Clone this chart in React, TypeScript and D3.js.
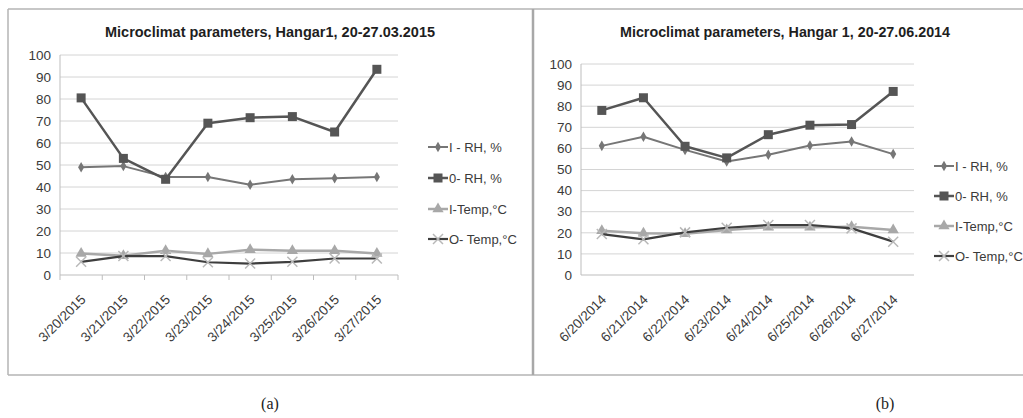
import React from "react";
import * as d3 from "d3";

const datesA = ["3/20/2015", "3/21/2015", "3/22/2015", "3/23/2015", "3/24/2015", "3/25/2015", "3/26/2015", "3/27/2015"];
const datesB = ["6/20/2014", "6/21/2014", "6/22/2014", "6/23/2014", "6/24/2014", "6/25/2014", "6/26/2014", "6/27/2014"];

const seriesNames = ["I - RH, %", "0- RH, %", "I-Temp,°C", "O- Temp,°C"];

const aIRH = [49, 49.5, 44.5, 44.5, 41, 43.5, 44, 44.5];
const aORH = [80.5, 53, 43.5, 69, 71.5, 72, 65, 93.5];
const aITemp = [9.8, 8.8, 11, 9.6, 11.5, 11, 11, 9.8];
const aOTemp = [6, 8.6, 8.6, 5.8, 5.2, 6, 7.5, 7.5];

const bIRH = [61.2, 65.5, 59.3, 53.8, 57, 61.4, 63.3, 57.3];
const bORH = [78, 84, 61, 55.5, 66.5, 71, 71.3, 87];
const bITemp = [21, 19.8, 19.5, 21.3, 22.6, 22.6, 22.9, 21.3];
const bOTemp = [19.4, 16.9, 20.2, 22.4, 23.7, 23.7, 22.1, 15.8];

const yTicks = [0, 10, 20, 30, 40, 50, 60, 70, 80, 90, 100];

const styles = [
  { color: "#767676", width: 2, marker: "diamond" },
  { color: "#555555", width: 2.5, marker: "square" },
  { color: "#a8a8a8", width: 2.5, marker: "triangle" },
  { color: "#3e3e3e", width: 2.2, marker: "x" },
];

const FONT = "'Liberation Sans', Arial, sans-serif";

function Marker({ kind, x, y, color }: { kind: string; x: number; y: number; color: string }) {
  if (kind === "diamond") {
    const p = d3.symbol(d3.symbolDiamond, 32)();
    return <path d={p || ""} transform={`translate(${x},${y})`} fill={color} />;
  }
  if (kind === "square") {
    return <rect x={x - 4.5} y={y - 4.5} width={9} height={9} fill={color} />;
  }
  if (kind === "triangle") {
    const p = d3.symbol(d3.symbolTriangle, 55)();
    return <path d={p || ""} transform={`translate(${x},${y})`} fill={color} />;
  }
  return (
    <g transform={`translate(${x},${y})`} stroke="#b8b8b8" strokeWidth={1.5}>
      <line x1={-5} y1={-5} x2={5} y2={5} />
      <line x1={-5} y1={5} x2={5} y2={-5} />
    </g>
  );
}

type ChartProps = {
  title: string;
  titleX: number;
  dates: string[];
  data: number[][];
  left: number;
  right: number;
  top: number;
  bottom: number;
  ticks: boolean;
  legendX: number;
  legendY: number[];
  labelX: number;
};

function Chart(p: ChartProps) {
  const x = d3.scaleBand<string>().domain(p.dates).range([p.left, p.right]);
  const y = d3.scaleLinear().domain([0, 100]).range([p.bottom, p.top]);
  const line = d3
    .line<number>()
    .x((_, i) => (x(p.dates[i]) as number) + x.bandwidth() / 2)
    .y((d) => y(d));
  const bounds = d3.range(p.dates.length + 1).map((i) => p.left + i * x.step());
  return (
    <g>
      <text x={p.titleX} y={37} textAnchor="middle" fontFamily={FONT} fontWeight="bold" fontSize={14} fill="#1e1e1e" textLength={330} lengthAdjust="spacingAndGlyphs">
        {p.title}
      </text>
      {yTicks.map((t) => (
        <g key={t}>
          {t > 0 && <line x1={p.left} x2={p.right} y1={y(t)} y2={y(t)} stroke="#d4d4d4" strokeWidth={1} />}
          <text x={p.labelX} y={y(t)} dy="0.35em" textAnchor="end" fontFamily={FONT} fontSize={13.5} fill="#3a3a3a">
            {t}
          </text>
        </g>
      ))}
      <line x1={p.left} x2={p.left} y1={p.top} y2={p.bottom} stroke="#bdbdbd" strokeWidth={1} />
      <line x1={p.left} x2={p.right} y1={p.bottom} y2={p.bottom} stroke="#bdbdbd" strokeWidth={1} />
      {p.ticks &&
        bounds.map((b, i) => <line key={i} x1={b} x2={b} y1={p.bottom} y2={p.bottom + 5} stroke="#bdbdbd" strokeWidth={1} />)}
      {p.dates.map((d) => {
        const cx = (x(d) as number) + x.bandwidth() / 2;
        return (
          <text key={d} transform={`translate(${cx + 2},${p.bottom + 22}) rotate(-45)`} textAnchor="end" dy="0.35em" fontFamily={FONT} fontSize={13.5} fill="#3a3a3a">
            {d}
          </text>
        );
      })}
      {p.data.map((s, si) => (
        <g key={si}>
          <path d={line(s) || ""} fill="none" stroke={styles[si].color} strokeWidth={styles[si].width} strokeLinejoin="round" />
          {s.map((v, i) => (
            <Marker key={i} kind={styles[si].marker} x={(x(p.dates[i]) as number) + x.bandwidth() / 2} y={y(v)} color={styles[si].color} />
          ))}
        </g>
      ))}
      {seriesNames.map((n, si) => (
        <g key={n}>
          <line x1={p.legendX} x2={p.legendX + 20} y1={p.legendY[si]} y2={p.legendY[si]} stroke={styles[si].color} strokeWidth={styles[si].width} />
          <Marker kind={styles[si].marker} x={p.legendX + 10} y={p.legendY[si]} color={styles[si].color} />
          <text x={p.legendX + 21} y={p.legendY[si]} dy="0.35em" fontFamily={FONT} fontSize={13} fill="#3a3a3a">
            {n}
          </text>
        </g>
      ))}
    </g>
  );
}

export default function App() {
  return (
    <svg width={1023} height={418} style={{ position: "absolute", left: 0, top: 0, background: "#fff" }}>
      <rect x={0} y={0} width={1023} height={418} fill="#fff" />
      <line x1={8} x2={1023} y1={9} y2={9} stroke="#b4b4b4" strokeWidth={1.5} />
      <line x1={8} x2={1023} y1={375} y2={375} stroke="#b4b4b4" strokeWidth={1.5} />
      <line x1={8} x2={8} y1={9} y2={375} stroke="#b4b4b4" strokeWidth={1.5} />
      <line x1={533} x2={533} y1={9} y2={375} stroke="#a8a8a8" strokeWidth={2.5} />
      <Chart
        title="Microclimat parameters, Hangar1, 20-27.03.2015"
        titleX={270}
        dates={datesA}
        data={[aIRH, aORH, aITemp, aOTemp]}
        left={60}
        right={398}
        top={55}
        bottom={275}
        ticks={true}
        legendX={428}
        legendY={[147, 178, 209, 239]}
        labelX={51}
      />
      <Chart
        title="Microclimat parameters, Hangar 1, 20-27.06.2014"
        titleX={785}
        dates={datesB}
        data={[bIRH, bORH, bITemp, bOTemp]}
        left={581}
        right={914}
        top={64}
        bottom={275}
        ticks={false}
        legendX={934}
        legendY={[166, 196, 226, 256]}
        labelX={572}
      />
      <text x={270} y={409} textAnchor="middle" fontFamily="'Liberation Serif', 'Times New Roman', serif" fontSize={16} fill="#222">(a)</text>
      <text x={885} y={409} textAnchor="middle" fontFamily="'Liberation Serif', 'Times New Roman', serif" fontSize={16} fill="#222">(b)</text>
    </svg>
  );
}
